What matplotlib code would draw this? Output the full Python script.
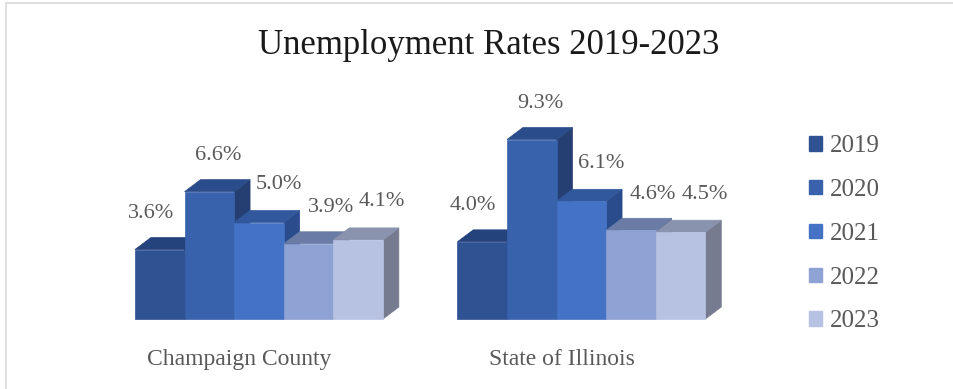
import matplotlib.pyplot as plt
import numpy as np
from matplotlib.patches import Polygon, Rectangle, Patch

# ---------------- data ----------------
regions = ["Champaign County", "State of Illinois"]
years = ["2019", "2020", "2021", "2022", "2023"]
champaign = [3.6, 6.6, 5.0, 3.9, 4.1]
illinois = [4.0, 9.3, 6.1, 4.6, 4.5]
rates = [champaign, illinois]

# face colours per year: front, top, side
front_cols = ["#2F5293", "#3862AC", "#4472C4", "#8FA2D4", "#B7C1E2"]
top_cols = ["#24427C", "#2B4C8A", "#31579C", "#6A7CA6", "#8A93AE"]
side_cols = ["#1F3966", "#253F72", "#2A4C8C", "#5E6E96", "#767B8F"]

plt.rcParams['font.family'] = ['Liberation Serif', 'DejaVu Serif']
txt_col = "#595959"

fig = plt.figure(figsize=(9.54, 3.89), dpi=100)
ax = fig.add_axes([0.1155, 0.1055, 0.7019, 0.6698])
ax.set_xlim(-0.5, 13)
ax.set_ylim(-1.5, 12)
ax.axis("off")

bar_w = 1.0
dx, dy = 0.32, 0.62          # 3d depth offset (data units)
gap = 1.5
lbl_dx = [-9, 9, 20, 22, 24]  # label nudges in pixels
lbl_dy = [36, 36, 38, 36, 38]

for g, vals in enumerate(rates):
    x0 = g * (len(years) * bar_w + gap)
    for i, v in enumerate(vals):
        xl = x0 + i * bar_w
        xr = xl + bar_w
        side = [(xr, 0), (xr + dx, dy), (xr + dx, v + dy), (xr, v)]
        top = [(xl, v), (xr, v), (xr + dx, v + dy), (xl + dx, v + dy)]
        front = [(xl, 0), (xr, 0), (xr, v), (xl, v)]
        ax.add_patch(Polygon(side, closed=True, fc=side_cols[i], ec=side_cols[i], lw=0.5))
        ax.add_patch(Polygon(top, closed=True, fc=top_cols[i], ec=top_cols[i], lw=0.5))
        ax.add_patch(Polygon(front, closed=True, fc=front_cols[i], ec=front_cols[i], lw=0.5))
        ax.annotate("%.1f%%" % v, (xl + bar_w / 2, v), xytext=(lbl_dx[i], lbl_dy[i]),
                    textcoords="offset pixels", ha="center", va="center",
                    fontsize=16, color=txt_col, annotation_clip=False)
    ax.text(x0 + len(years) * bar_w / 2 - 0.4, -2.1, regions[g], ha="center", va="center",
            fontsize=17, color=txt_col, clip_on=False)

fig.text(0.5126, 0.884, "Unemployment Rates 2019-2023", ha="center", va="center",
         fontsize=25, color="#1a1a1a")

handles = [Patch(facecolor=c, edgecolor=c) for c in front_cols]
fig.legend(handles, years, loc="upper left", bbox_to_anchor=(0.835, 0.684),
           frameon=False, fontsize=18, labelcolor=txt_col, handlelength=0.5,
           handleheight=0.5, handletextpad=0.35, labelspacing=0.87, borderpad=0)

# outer chart frame
fig.patches.append(Rectangle((6 / 954, -0.1), 1.2, 1 - 3 / 389 + 0.1, transform=fig.transFigure,
                             fill=False, ec="#D9D9D9", lw=1.2))

fig.savefig("out.png", dpi=100)
